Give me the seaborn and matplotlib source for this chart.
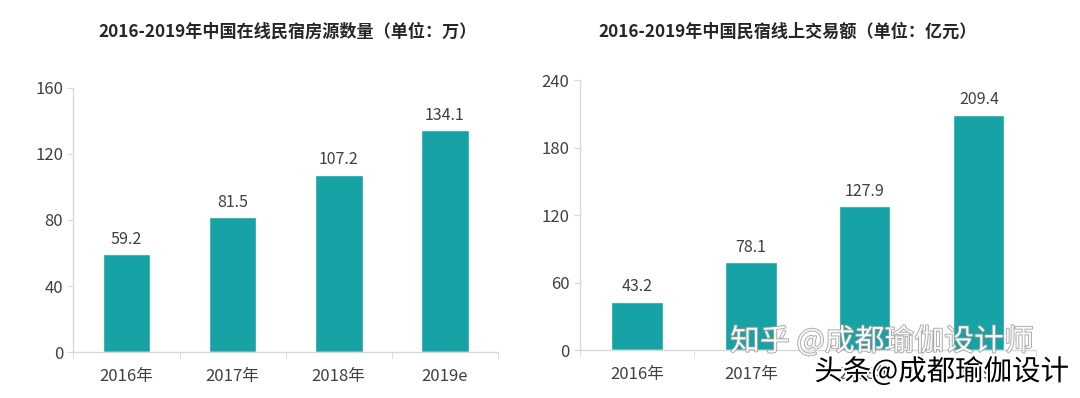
import matplotlib
matplotlib.use("Agg")
import matplotlib.pyplot as plt
import matplotlib.patheffects as pe
import seaborn as sns
import pandas as pd

# Data
years_left = ["2016年", "2017年", "2018年", "2019e"]
listings = [59.2, 81.5, 107.2, 134.1]

years_right = ["2016年", "2017年", "2018年", "2019e"]
revenue = [43.2, 78.1, 127.9, 209.4]

left_ticks = [0, 40, 80, 120, 160]
right_ticks = [0, 60, 120, 180, 240]

sns.set_style("white")
plt.rcParams["font.family"] = ["Noto Sans CJK SC", "DejaVu Sans"]

bar_color = "#17a3a5"
text_color = "#404040"
axis_color = "#d9d9d9"

fig = plt.figure(figsize=(10.8, 3.98), dpi=100)
ax1 = fig.add_axes([0.068, 0.115, 0.393, 0.665])
ax2 = fig.add_axes([0.537, 0.12, 0.422, 0.678])

df1 = pd.DataFrame({"year": years_left, "value": listings})
df2 = pd.DataFrame({"year": years_right, "value": revenue})


def draw(ax, df, ticks):
    sns.barplot(data=df, x="year", y="value", color=bar_color, width=0.45,
                saturation=1, ax=ax)
    ax.set_ylim(ticks[0], ticks[-1])
    ax.set_yticks(ticks)
    ax.set_xlim(-0.5, len(df) - 0.5)
    ax.set_xlabel("")
    ax.set_ylabel("")
    for p, v in zip(ax.patches, df["value"]):
        ax.text(p.get_x() + p.get_width() / 2, v + ticks[-1] * 0.025, f"{v}",
                ha="center", va="bottom", fontsize=11.5, color=text_color)
    for s in ["top", "right"]:
        ax.spines[s].set_visible(False)
    for s in ["left", "bottom"]:
        ax.spines[s].set_color(axis_color)
        ax.spines[s].set_linewidth(1)
    ax.tick_params(axis="y", colors=text_color, labelsize=12, length=4,
                   color=axis_color, left=True, direction="out")
    ax.tick_params(axis="x", colors=text_color, labelsize=12, bottom=False, pad=8)
    # separators between categories on the x axis
    ax.set_xticks([i - 0.5 for i in range(len(df) + 1)], minor=True)
    ax.tick_params(axis="x", which="minor", bottom=True, length=5,
                   color=axis_color, direction="out")


draw(ax1, df1, left_ticks)
draw(ax2, df2, right_ticks)

# titles
fig.text(0.266, 0.92, "2016-2019年中国在线民宿房源数量（单位：万）", ha="center",
         va="center", fontsize=12.3, fontweight="bold", color="#262626")
fig.text(0.729, 0.92, "2016-2019年中国民宿线上交易额（单位：亿元）", ha="center",
         va="center", fontsize=12.3, fontweight="bold", color="#262626")

# watermarks
fig.text(0.676, 0.12, "知乎 @成都瑜伽设计师", fontsize=21.5, color="white",
         alpha=0.9, path_effects=[pe.withStroke(linewidth=1.2, foreground="#9a9a9a")])
fig.text(0.754, 0.045, "头条@成都瑜伽设计", fontsize=20.5, color="black",
         path_effects=[pe.withStroke(linewidth=2.5, foreground="white")])

fig.savefig("out.png", dpi=100, facecolor="white")
